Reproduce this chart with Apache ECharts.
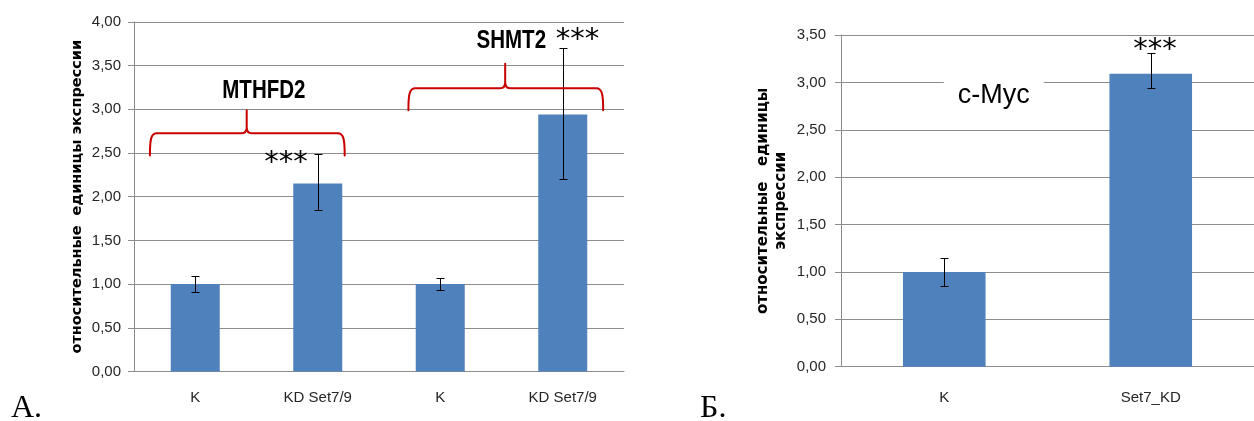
<!DOCTYPE html>
<html><head><meta charset="utf-8">
<script src="https://cdn.jsdelivr.net/npm/echarts@6/dist/echarts.min.js"></script>
<style>html,body{margin:0;padding:0;background:#fff}#c{width:1254px;height:421px}</style>
</head><body><div id="c"></div>
<script>
// ---- Panel A data ----
var categoriesA = ['K', 'KD Set7/9', 'K', 'KD Set7/9'];
var valuesA = [1.00, 2.15, 1.00, 2.94];
var errLowA = [0.91, 1.85, 0.935, 2.20];
var errHighA = [1.09, 2.485, 1.065, 3.70];
var geneLabelsA = ['MTHFD2', 'SHMT2'];
// ---- Panel B data ----
var categoriesB = ['K', 'Set7_KD'];
var valuesB = [1.00, 3.09];
var errLowB = [0.855, 2.94];
var errHighB = [1.15, 3.31];
var geneLabelB = 'c-Myc';
var signifMark = '***';
var yTitleA = 'относительные  единицы экспрессии';
var yTitleB = 'относительные   единицы\nэкспрессии';
var panelLabels = ['А.', 'Б.'];

function fmt(v) { return v.toFixed(2).replace('.', ','); }

// annotation anchors (category units, value units)
var bracketsA = [
  { from: -0.37, to: 1.22, peakX: 0.42, yEnd: 2.47, yH: 2.725, yPeak: 2.99 },
  { from: 1.74, to: 3.33, peakX: 2.53, yEnd: 2.99, yH: 3.24, yPeak: 3.52 }
];
var textsA = [
  { t: geneLabelsA[0], x: 0.56, y: 3.21, kind: 'gene' },
  { t: geneLabelsA[1], x: 2.58, y: 3.78, kind: 'gene' },
  { t: signifMark, x: 0.74, y: 2.38, kind: 'star' },
  { t: signifMark, x: 3.12, y: 3.79, kind: 'star' }
];
var textsB = [
  { t: geneLabelB, x: 0.24, y: 2.86, kind: 'myc' },
  { t: signifMark, x: 1.02, y: 3.34, kind: 'star' }
];

var GRID = '#8c8c8c';
var LBL = { fontFamily: 'Liberation Sans', fontSize: 15, color: '#262626' };

function errItem(params, api) {
  var x = api.value(0), lo = api.value(1), hi = api.value(2);
  var p1 = api.coord([x, hi]), p2 = api.coord([x, lo]);
  var cx = Math.round(p1[0]) + 0.5, hw = 4;
  var y1 = Math.round(p1[1]) + 0.5, y2 = Math.round(p2[1]) + 0.5;
  var st = { stroke: '#000', lineWidth: 1 };
  return { type: 'group', children: [
    { type: 'line', shape: { x1: cx, y1: y1, x2: cx, y2: y2 }, style: st },
    { type: 'line', shape: { x1: cx - hw, y1: y1, x2: cx + hw, y2: y1 }, style: st },
    { type: 'line', shape: { x1: cx - hw, y1: y2, x2: cx + hw, y2: y2 }, style: st }
  ]};
}

function catX(api, c) {
  var base = api.coord([0, 0])[0];
  var cw = api.size([1, 0])[0];
  return base + c * cw;
}

function bracketItem(params, api) {
  var b = bracketsA[params.dataIndex];
  var xs = catX(api, b.from), xe = catX(api, b.to), xm = catX(api, b.peakX);
  var yE = api.coord([0, b.yEnd])[1], yH = api.coord([0, b.yH])[1], yP = api.coord([0, b.yPeak])[1];
  var d = 'M' + xs + ' ' + yE +
    ' C' + xs + ' ' + (yH + 6) + ' ' + (xs + 1) + ' ' + yH + ' ' + (xs + 7) + ' ' + yH +
    ' L' + (xm - 5) + ' ' + yH +
    ' Q' + xm + ' ' + yH + ' ' + xm + ' ' + (yH - 6) +
    ' L' + xm + ' ' + yP +
    ' M' + xm + ' ' + (yH - 6) +
    ' Q' + xm + ' ' + yH + ' ' + (xm + 5) + ' ' + yH +
    ' L' + (xe - 7) + ' ' + yH +
    ' C' + (xe - 1) + ' ' + yH + ' ' + xe + ' ' + (yH + 6) + ' ' + xe + ' ' + yE;
  return { type: 'path', shape: { pathData: d },
    style: { fill: null, stroke: '#c80000', lineWidth: 2, lineJoin: 'round', lineCap: 'round' } };
}

function textItemFactory(list) {
  return function (params, api) {
    var a = list[params.dataIndex];
    var px = catX(api, a.x), py = api.coord([0, a.y])[1];
    var style = { text: a.t, fill: '#000', align: 'center', verticalAlign: 'middle' };
    var sx = 1;
    if (a.kind === 'gene') { style.font = 'bold 25px "Liberation Sans"'; sx = 0.82; }
    else if (a.kind === 'star') { style.font = '29px "DejaVu Sans"'; }
    else { style.font = '27px "Liberation Sans"'; style.backgroundColor = '#fff'; style.padding = [5, 14, 3, 14]; }
    return { type: 'text', x: px, y: py, scaleX: sx, style: style };
  };
}

function zip3(idx, lo, hi) { return idx.map(function (_, i) { return [i, lo[i], hi[i]]; }); }

var yAxisCommon = {
  type: 'value', min: 0, interval: 0.5,
  axisLine: { show: true, lineStyle: { color: GRID } },
  axisTick: { show: true, length: 6, lineStyle: { color: GRID } },
  splitLine: { show: true, lineStyle: { color: GRID } },
  nameLocation: 'middle', nameRotate: 90,
  axisLabel: Object.assign({ formatter: fmt }, LBL)
};

var option = {
  animation: false,
  backgroundColor: '#fff',
  grid: [
    { left: 134, right: 1254 - 624, top: 21.9, bottom: 421 - 371.5 },
    { left: 841, right: -4, top: 35, bottom: 421 - 366.7 }
  ],
  xAxis: [
    { type: 'category', gridIndex: 0, data: categoriesA,
      axisLine: { lineStyle: { color: GRID } }, axisTick: { length: 6, lineStyle: { color: GRID } },
      axisLabel: Object.assign({ margin: 19, interval: 0 }, LBL) },
    { type: 'category', gridIndex: 1, data: categoriesB,
      axisLine: { lineStyle: { color: GRID } }, axisTick: { length: 6, lineStyle: { color: GRID } },
      axisLabel: Object.assign({ margin: 24, interval: 0 }, LBL) }
  ],
  yAxis: [
    Object.assign({}, yAxisCommon, { gridIndex: 0, max: 4, name: yTitleA, nameGap: 49,
      axisLabel: Object.assign({ formatter: fmt, margin: 13 }, LBL),
      nameTextStyle: { fontFamily: 'DejaVu Sans', fontWeight: 'bold', fontSize: 14.5, color: '#000' } }),
    Object.assign({}, yAxisCommon, { gridIndex: 1, max: 3.5, name: yTitleB, nameGap: 51,
      axisLabel: Object.assign({ formatter: fmt, margin: 15 }, LBL),
      nameTextStyle: { fontFamily: 'DejaVu Sans', fontWeight: 'bold', fontSize: 15, color: '#000', lineHeight: 17.6 } })
  ],
  series: [
    { type: 'bar', xAxisIndex: 0, yAxisIndex: 0, data: valuesA, barWidth: '40%', itemStyle: { color: '#4f81bd' } },
    { type: 'bar', xAxisIndex: 1, yAxisIndex: 1, data: valuesB, barWidth: '40%', itemStyle: { color: '#4f81bd' } },
    { type: 'custom', xAxisIndex: 0, yAxisIndex: 0, renderItem: errItem, z: 5,
      data: zip3(valuesA, errLowA, errHighA), encode: { x: 0, y: [1, 2] } },
    { type: 'custom', xAxisIndex: 1, yAxisIndex: 1, renderItem: errItem, z: 5,
      data: zip3(valuesB, errLowB, errHighB), encode: { x: 0, y: [1, 2] } },
    { type: 'custom', xAxisIndex: 0, yAxisIndex: 0, renderItem: bracketItem, z: 6, silent: true,
      data: bracketsA.map(function (b) { return [0, b.yH]; }), encode: { x: 0, y: 1 } },
    { type: 'custom', xAxisIndex: 0, yAxisIndex: 0, renderItem: textItemFactory(textsA), z: 7, silent: true,
      data: textsA.map(function (a) { return [0, a.y]; }), encode: { x: 0, y: 1 } },
    { type: 'custom', xAxisIndex: 1, yAxisIndex: 1, renderItem: textItemFactory(textsB), z: 7, silent: true,
      data: textsB.map(function (a) { return [0, a.y]; }), encode: { x: 0, y: 1 } }
  ],
  graphic: [
    { type: 'text', left: 11, top: 393, style: { text: panelLabels[0], font: '32px "Liberation Serif"', fill: '#000' } },
    { type: 'text', left: 700, top: 393, style: { text: panelLabels[1], font: '32px "Liberation Serif"', fill: '#000' } }
  ]
};

var chart = echarts.init(document.getElementById('c'), null, { renderer: 'canvas' });
chart.setOption(option);
</script>
</body></html>
